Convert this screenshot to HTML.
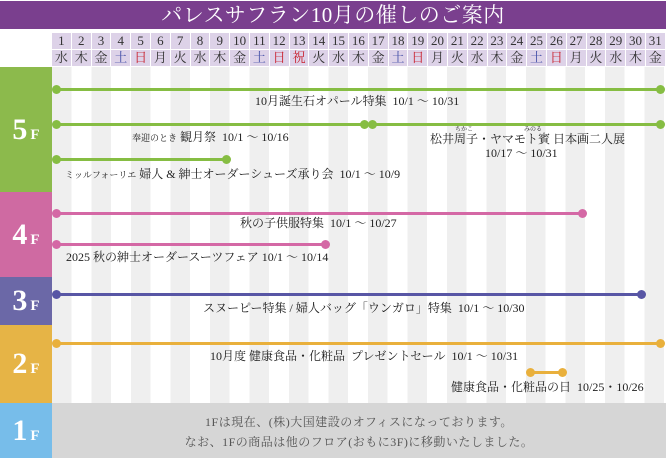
<!DOCTYPE html>
<html><head><meta charset="utf-8"><style>
*{margin:0;padding:0;box-sizing:border-box}
body{width:666px;height:461px;overflow:hidden;background:#fff;position:relative;font-family:"Liberation Serif","Noto Serif CJK JP",serif;color:#222}
.a{position:absolute;white-space:nowrap}
#title{left:0;top:1px;width:666px;height:28px;background:#7a3f8e;color:#fff;font-size:21px;line-height:28px;text-align:center;letter-spacing:0.5px}
.row{position:absolute;left:52px;width:614px;height:16px;display:flex}
.row div{width:19.8px;background:#ddd2e8;border-right:1.5px solid #fff;text-align:center;font-size:13px;line-height:16px;color:#333}
.b{color:#4651a8!important}.r{color:#c8202e!important}
#stripes{left:52px;top:67px;width:614px;height:336px;background:repeating-linear-gradient(90deg,#efefef 0 19.75px,#fff 19.75px 39.5px)}
.fl{left:0;width:52px;color:#fff;text-align:center;font-size:30px;font-weight:bold}
.fl span{font-size:15px;margin-left:3px}
.ln{position:absolute;height:3px}
.dot{position:absolute;width:9px;height:9px;border-radius:50%;margin-top:-3px}
.t{font-size:12px;line-height:14px}
.s{font-size:9px}
</style></head><body>
<div id="title" class="a">パレスサフラン10月の催しのご案内</div>
<div class="row" style="top:33px">
<div>1</div><div>2</div><div>3</div><div>4</div><div>5</div><div>6</div><div>7</div><div>8</div><div>9</div><div>10</div><div>11</div><div>12</div><div>13</div><div>14</div><div>15</div><div>16</div><div>17</div><div>18</div><div>19</div><div>20</div><div>21</div><div>22</div><div>23</div><div>24</div><div>25</div><div>26</div><div>27</div><div>28</div><div>29</div><div>30</div><div>31</div></div>
<div class="row" style="top:50px">
<div>水</div><div>木</div><div>金</div><div class="b">土</div><div class="r">日</div><div>月</div><div>火</div><div>水</div><div>木</div><div>金</div><div class="b">土</div><div class="r">日</div><div class="r">祝</div><div>火</div><div>水</div><div>木</div><div>金</div><div class="b">土</div><div class="r">日</div><div>月</div><div>火</div><div>水</div><div>木</div><div>金</div><div class="b">土</div><div class="r">日</div><div>月</div><div>火</div><div>水</div><div>木</div><div>金</div></div>
<div id="stripes" class="a"></div>
<div class="a" style="left:52px;top:403px;width:614px;height:55px;background:#d6d6d6"></div>

<div class="a fl" style="top:67px;height:125px;background:#8cba4c;line-height:125px">5<span>F</span></div>
<div class="a fl" style="top:192px;height:85px;background:#cf6aa2;line-height:85px">4<span>F</span></div>
<div class="a fl" style="top:277px;height:48px;background:#6b68a7;line-height:48px">3<span>F</span></div>
<div class="a fl" style="top:325px;height:78px;background:#e6b446;line-height:78px">2<span>F</span></div>
<div class="a fl" style="top:403px;height:55px;background:#77bdea;line-height:55px">1<span>F</span></div>

<div class="ln" style="left:56px;width:604px;top:88px;background:#86bd43"></div>
<div class="dot" style="left:52px;top:88px;background:#86bd43"></div><div class="dot" style="left:656px;top:88px;background:#86bd43"></div>
<div class="a t" style="left:255px;top:94px">10月誕生石オパール特集 &nbsp;10/1 ～ 10/31</div>

<div class="ln" style="left:56px;width:604px;top:123px;background:#86bd43"></div>
<div class="dot" style="left:52px;top:123px;background:#86bd43"></div><div class="dot" style="left:360px;top:123px;background:#86bd43"></div>
<div class="dot" style="left:368px;top:123px;background:#86bd43"></div><div class="dot" style="left:656px;top:123px;background:#86bd43"></div>
<div class="a t" style="left:132px;top:130px"><span class="s">奉迎のとき</span> 観月祭 &nbsp;10/1 ～ 10/16</div>
<div class="a" style="left:455px;top:124px;font-size:6px">ちかこ</div><div class="a" style="left:524px;top:124px;font-size:6px">みのる</div>
<div class="a t" style="left:430px;top:132px">松井周子・ヤマモト賓 日本画二人展</div>
<div class="a t" style="left:485px;top:146px">10/17 ～ 10/31</div>

<div class="ln" style="left:56px;width:170px;top:158px;background:#86bd43"></div>
<div class="dot" style="left:52px;top:158px;background:#86bd43"></div><div class="dot" style="left:222px;top:158px;background:#86bd43"></div>
<div class="a t" style="left:65px;top:167px"><span class="s">ミッルフォーリエ</span> 婦人 &amp; 紳士オーダーシューズ承り会 &nbsp;10/1 ～ 10/9</div>

<div class="ln" style="left:56px;width:526px;top:212px;background:#d468a5"></div>
<div class="dot" style="left:52px;top:212px;background:#d468a5"></div><div class="dot" style="left:578px;top:212px;background:#d468a5"></div>
<div class="a t" style="left:240px;top:216px">秋の子供服特集 &nbsp;10/1 ～ 10/27</div>
<div class="ln" style="left:56px;width:269px;top:243px;background:#d468a5"></div>
<div class="dot" style="left:52px;top:243px;background:#d468a5"></div><div class="dot" style="left:321px;top:243px;background:#d468a5"></div>
<div class="a t" style="left:66px;top:250px">2025 秋の紳士オーダースーツフェア 10/1 ～ 10/14</div>

<div class="ln" style="left:56px;width:585px;top:293px;background:#5856a5"></div>
<div class="dot" style="left:52px;top:293px;background:#5856a5"></div><div class="dot" style="left:637px;top:293px;background:#5856a5"></div>
<div class="a t" style="left:203px;top:301px">スヌーピー特集 / 婦人バッグ「ウンガロ」特集 &nbsp;10/1 ～ 10/30</div>

<div class="ln" style="left:56px;width:604px;top:342px;background:#e9b03c"></div>
<div class="dot" style="left:52px;top:342px;background:#e9b03c"></div><div class="dot" style="left:656px;top:342px;background:#e9b03c"></div>
<div class="a t" style="left:210px;top:349px">10月度 健康食品・化粧品 &nbsp;プレゼントセール &nbsp;10/1 ～ 10/31</div>
<div class="ln" style="left:530px;width:32px;top:371px;background:#e9b03c"></div>
<div class="dot" style="left:526px;top:371px;background:#e9b03c"></div><div class="dot" style="left:558px;top:371px;background:#e9b03c"></div>
<div class="a t" style="left:451px;top:380px">健康食品・化粧品の日 &nbsp;10/25・10/26</div>

<div class="a t" style="left:52px;width:614px;text-align:center;top:415px;color:#555;letter-spacing:0.5px">1Fは現在、(株)大国建設のオフィスになっております。</div>
<div class="a t" style="left:52px;width:614px;text-align:center;top:435px;color:#555;letter-spacing:0.5px">なお、1Fの商品は他のフロア(おもに3F)に移動いたしました。</div>
</body></html>
